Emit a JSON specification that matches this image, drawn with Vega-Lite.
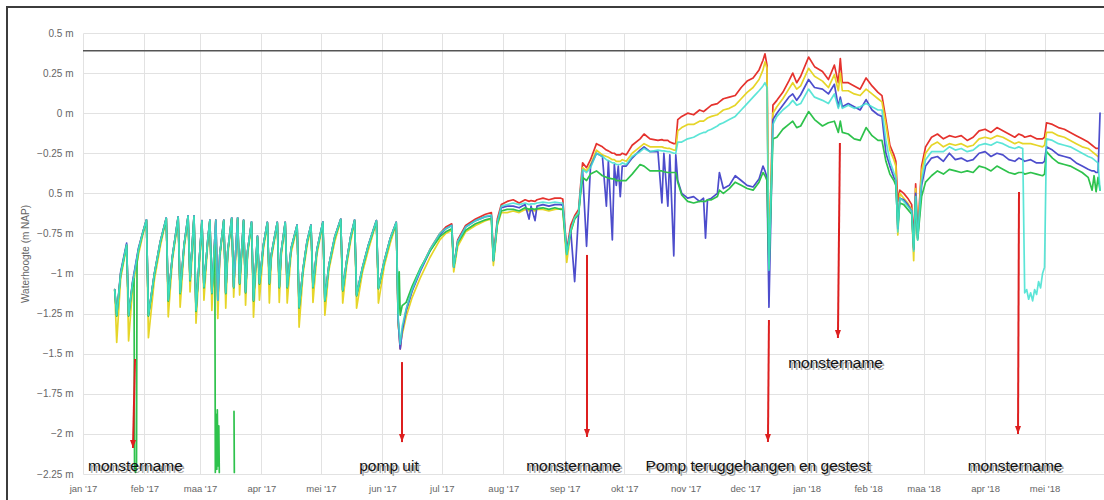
{
  "$schema": "https://vega.github.io/schema/vega-lite/v6.json",
  "width": 1021,
  "height": 441,
  "autosize": {"type": "none"},
  "padding": {"left": 83, "top": 33, "right": 0, "bottom": 26},
  "background": "white",
  "config": {"view": {"stroke": null}, "font": "Liberation Sans"},
  "datasets": {
    "w": [
      {"d":"2017/01/17","r":-1.1,"y":-1.1,"b":-1.1,"c":-1.1,"g":-1.106},
      {"d":"2017/01/18","r":-1.26,"y":-1.43,"b":-1.26,"c":-1.26,"g":-1.266},
      {"d":"2017/01/20","r":-1.0,"y":-1.03,"b":-0.99,"c":-1.0,"g":-1.006},
      {"d":"2017/01/23","r":-0.82,"y":-0.83,"b":-0.81,"c":-0.82,"g":-0.826},
      {"d":"2017/01/24","r":-1.26,"y":-1.42,"b":-1.26,"c":-1.26,"g":-1.266},
      {"d":"2017/01/26","r":-1.06,"y":-1.09,"b":-1.05,"c":-1.06,"g":-1.066},
      {"d":"2017/01/26 18:00","g":-1.03},
      {"d":"2017/01/27 00:00","g":-2.2},
      {"d":"2017/01/27 12:00","g":-2.24},
      {"d":"2017/01/28 00:00","g":-2.18},
      {"d":"2017/01/28 06:00","g":-0.93},
      {"d":"2017/01/29","r":-0.85,"y":-0.88,"b":-0.84,"c":-0.85,"g":-0.856},
      {"d":"2017/01/31","r":-0.75,"y":-0.77,"b":-0.75,"c":-0.75,"g":-0.756},
      {"d":"2017/02/02","r":-0.665,"y":-0.67,"b":-0.665,"c":-0.665,"g":-0.671},
      {"d":"2017/02/03","r":-1.26,"y":-1.4,"b":-1.26,"c":-1.26,"g":-1.266},
      {"d":"2017/02/06","r":-1.0,"y":-1.04,"b":-1.0,"c":-1.0,"g":-1.006},
      {"d":"2017/02/09","r":-0.8,"y":-0.83,"b":-0.8,"c":-0.8,"g":-0.806},
      {"d":"2017/02/12","r":-0.653,"y":-0.66,"b":-0.653,"c":-0.653,"g":-0.659},
      {"d":"2017/02/13","r":-1.166,"y":-1.27,"b":-1.166,"c":-1.166,"g":-1.172},
      {"d":"2017/02/15","r":-0.9,"y":-0.93,"b":-0.9,"c":-0.9,"g":-0.906},
      {"d":"2017/02/18","r":-0.647,"y":-0.66,"b":-0.647,"c":-0.647,"g":-0.653},
      {"d":"2017/02/19","r":-1.12,"y":-1.21,"b":-1.12,"c":-1.12,"g":-1.126},
      {"d":"2017/02/21","r":-0.82,"y":-0.85,"b":-0.82,"c":-0.82,"g":-0.826},
      {"d":"2017/02/23","r":-0.64,"y":-0.65,"b":-0.64,"c":-0.64,"g":-0.646},
      {"d":"2017/02/24","r":-1.04,"y":-1.115,"b":-1.04,"c":-1.04,"g":-1.046},
      {"d":"2017/02/26","r":-0.64,"y":-0.65,"b":-0.64,"c":-0.64,"g":-0.646},
      {"d":"2017/02/27","r":-1.23,"y":-1.31,"b":-1.23,"c":-1.23,"g":-1.236},
      {"d":"2017/03/01","r":-0.85,"y":-0.88,"b":-0.85,"c":-0.85,"g":-0.856},
      {"d":"2017/03/02","r":-0.67,"y":-0.68,"b":-0.67,"c":-0.67,"g":-0.676},
      {"d":"2017/03/03","r":-1.084,"y":-1.166,"b":-1.084,"c":-1.084,"g":-1.09},
      {"d":"2017/03/05","r":-0.78,"y":-0.8,"b":-0.78,"c":-0.78,"g":-0.786},
      {"d":"2017/03/06","r":-0.666,"y":-0.67,"b":-0.666,"c":-0.666,"g":-0.672},
      {"d":"2017/03/07","r":-1.12,"y":-1.23,"b":-1.12,"c":-1.12,"g":-1.126},
      {"d":"2017/03/08 12:00","g":-0.82},
      {"d":"2017/03/08 18:00","g":-2.24},
      {"d":"2017/03/09","r":-0.666,"y":-0.67,"b":-0.666,"c":-0.666},
      {"d":"2017/03/09 06:00","g":-1.88},
      {"d":"2017/03/09 12:00","g":-2.22},
      {"d":"2017/03/09 18:00","g":-1.85},
      {"d":"2017/03/10","r":-1.166,"y":-1.28,"b":-1.166,"c":-1.166},
      {"d":"2017/03/10 02:00","g":-2.2},
      {"d":"2017/03/10 12:00","g":-1.95},
      {"d":"2017/03/10 18:00","g":-2.24},
      {"d":"2017/03/10 21:00","g":null},
      {"d":"2017/03/11","r":-0.88,"y":-0.91,"b":-0.88,"c":-0.88,"g":-0.886},
      {"d":"2017/03/13","r":-0.666,"y":-0.67,"b":-0.666,"c":-0.666,"g":-0.672},
      {"d":"2017/03/14","r":-1.12,"y":-1.216,"b":-1.12,"c":-1.12,"g":-1.126},
      {"d":"2017/03/15","r":-0.86,"y":-0.89,"b":-0.86,"c":-0.86,"g":-0.866},
      {"d":"2017/03/17","r":-0.653,"y":-0.66,"b":-0.653,"c":-0.653,"g":-0.659},
      {"d":"2017/03/18","r":-1.084,"y":-1.147,"b":-1.084,"c":-1.084,"g":-1.09},
      {"d":"2017/03/18 02:00","g":null},
      {"d":"2017/03/18 04:00","g":-1.86},
      {"d":"2017/03/18 08:00","g":-2.24},
      {"d":"2017/03/18 10:00","g":null},
      {"d":"2017/03/20","r":-0.653,"y":-0.66,"b":-0.653,"c":-0.653,"g":-0.659},
      {"d":"2017/03/21","r":-1.06,"y":-1.134,"b":-1.06,"c":-1.06,"g":-1.066},
      {"d":"2017/03/23","r":-0.666,"y":-0.67,"b":-0.666,"c":-0.666,"g":-0.672},
      {"d":"2017/03/24","r":-1.115,"y":-1.197,"b":-1.115,"c":-1.115,"g":-1.121},
      {"d":"2017/03/25","r":-0.86,"y":-0.89,"b":-0.86,"c":-0.86,"g":-0.866},
      {"d":"2017/03/27","r":-0.678,"y":-0.69,"b":-0.678,"c":-0.678,"g":-0.684},
      {"d":"2017/03/28","r":-1.166,"y":-1.272,"b":-1.166,"c":-1.166,"g":-1.172},
      {"d":"2017/03/30","r":-0.766,"y":-0.78,"b":-0.766,"c":-0.766,"g":-0.772},
      {"d":"2017/03/31","r":-1.06,"y":-1.166,"b":-1.06,"c":-1.06,"g":-1.066},
      {"d":"2017/04/02","r":-0.82,"y":-0.85,"b":-0.82,"c":-0.82,"g":-0.826},
      {"d":"2017/04/04","r":-0.68,"y":-0.69,"b":-0.68,"c":-0.68,"g":-0.686},
      {"d":"2017/04/05","r":-1.06,"y":-1.184,"b":-1.06,"c":-1.06,"g":-1.066},
      {"d":"2017/04/06","r":-0.88,"y":-0.91,"b":-0.88,"c":-0.88,"g":-0.886},
      {"d":"2017/04/09","r":-0.68,"y":-0.69,"b":-0.68,"c":-0.68,"g":-0.686},
      {"d":"2017/04/10","r":-1.084,"y":-1.18,"b":-1.084,"c":-1.084,"g":-1.09},
      {"d":"2017/04/11","r":-0.86,"y":-0.89,"b":-0.86,"c":-0.86,"g":-0.866},
      {"d":"2017/04/13","r":-0.68,"y":-0.69,"b":-0.68,"c":-0.68,"g":-0.686},
      {"d":"2017/04/14","r":-1.084,"y":-1.184,"b":-1.084,"c":-1.084,"g":-1.09},
      {"d":"2017/04/16","r":-0.84,"y":-0.87,"b":-0.84,"c":-0.84,"g":-0.846},
      {"d":"2017/04/19","r":-0.697,"y":-0.71,"b":-0.697,"c":-0.697,"g":-0.703},
      {"d":"2017/04/20","r":-1.21,"y":-1.334,"b":-1.21,"c":-1.21,"g":-1.216},
      {"d":"2017/04/22","r":-0.97,"y":-1.0,"b":-0.97,"c":-0.97,"g":-0.976},
      {"d":"2017/04/24","r":-0.8,"y":-0.83,"b":-0.8,"c":-0.8,"g":-0.806},
      {"d":"2017/04/26","r":-0.697,"y":-0.71,"b":-0.697,"c":-0.697,"g":-0.703},
      {"d":"2017/04/27","r":-1.084,"y":-1.18,"b":-1.084,"c":-1.084,"g":-1.09},
      {"d":"2017/04/29","r":-0.85,"y":-0.88,"b":-0.85,"c":-0.85,"g":-0.856},
      {"d":"2017/05/02","r":-0.678,"y":-0.69,"b":-0.678,"c":-0.678,"g":-0.684},
      {"d":"2017/05/03","r":-1.166,"y":-1.26,"b":-1.166,"c":-1.166,"g":-1.172},
      {"d":"2017/05/05","r":-0.95,"y":-0.98,"b":-0.95,"c":-0.95,"g":-0.956},
      {"d":"2017/05/08","r":-0.77,"y":-0.8,"b":-0.77,"c":-0.77,"g":-0.776},
      {"d":"2017/05/11","r":-0.66,"y":-0.67,"b":-0.66,"c":-0.66,"g":-0.666},
      {"d":"2017/05/12","r":-1.103,"y":-1.184,"b":-1.103,"c":-1.103,"g":-1.109},
      {"d":"2017/05/14","r":-0.92,"y":-0.95,"b":-0.92,"c":-0.92,"g":-0.926},
      {"d":"2017/05/16","r":-0.77,"y":-0.8,"b":-0.77,"c":-0.77,"g":-0.776},
      {"d":"2017/05/18","r":-0.666,"y":-0.68,"b":-0.666,"c":-0.666,"g":-0.672},
      {"d":"2017/05/19","r":-1.134,"y":-1.216,"b":-1.134,"c":-1.134,"g":-1.14},
      {"d":"2017/05/22","r":-0.96,"y":-0.99,"b":-0.96,"c":-0.96,"g":-0.966},
      {"d":"2017/05/25","r":-0.82,"y":-0.85,"b":-0.82,"c":-0.82,"g":-0.826},
      {"d":"2017/05/29","r":-0.67,"y":-0.68,"b":-0.67,"c":-0.67,"g":-0.676},
      {"d":"2017/05/30","r":-1.09,"y":-1.184,"b":-1.09,"c":-1.09,"g":-1.096},
      {"d":"2017/06/02","r":-0.92,"y":-0.95,"b":-0.92,"c":-0.92,"g":-0.926},
      {"d":"2017/06/05","r":-0.78,"y":-0.81,"b":-0.78,"c":-0.78,"g":-0.786},
      {"d":"2017/06/08","r":-0.68,"y":-0.69,"b":-0.68,"c":-0.68,"g":-0.686},
      {"d":"2017/06/09","r":-1.3,"y":-1.32,"b":-1.3,"c":-1.28,"g":-1.25},
      {"d":"2017/06/09 12:00","g":-0.99},
      {"d":"2017/06/10","r":-1.47,"y":-1.42,"b":-1.47,"c":-1.44,"g":-1.26},
      {"d":"2017/06/11","r":-1.36,"y":-1.38,"b":-1.36,"c":-1.33,"g":-1.2},
      {"d":"2017/06/13","r":-1.23,"y":-1.27,"b":-1.23,"c":-1.22,"g":-1.18},
      {"d":"2017/06/16","r":-1.1,"y":-1.15,"b":-1.11,"c":-1.1,"g":-1.08},
      {"d":"2017/06/20","r":-0.98,"y":-1.03,"b":-0.99,"c":-0.98,"g":-0.97},
      {"d":"2017/06/25","r":-0.85,"y":-0.9,"b":-0.86,"c":-0.85,"g":-0.86},
      {"d":"2017/06/30","r":-0.75,"y":-0.79,"b":-0.76,"c":-0.75,"g":-0.77},
      {"d":"2017/07/03","r":-0.71,"y":-0.75,"b":-0.72,"c":-0.72,"g":-0.74},
      {"d":"2017/07/06","r":-0.69,"y":-0.73,"b":-0.7,"c":-0.7,"g":-0.72},
      {"d":"2017/07/07","r":-0.96,"y":-0.99,"b":-0.96,"c":-0.96,"g":-0.96},
      {"d":"2017/07/09","r":-0.79,"y":-0.83,"b":-0.8,"c":-0.8,"g":-0.81},
      {"d":"2017/07/13","r":-0.7,"y":-0.74,"b":-0.71,"c":-0.71,"g":-0.73},
      {"d":"2017/07/18","r":-0.66,"y":-0.7,"b":-0.67,"c":-0.67,"g":-0.69},
      {"d":"2017/07/23","r":-0.63,"y":-0.67,"b":-0.645,"c":-0.645,"g":-0.665},
      {"d":"2017/07/26","r":-0.62,"y":-0.66,"b":-0.64,"c":-0.635,"g":-0.655},
      {"d":"2017/07/27","r":-0.9,"y":-0.95,"b":-0.92,"c":-0.92,"g":-0.92},
      {"d":"2017/07/29","r":-0.66,"y":-0.7,"b":-0.68,"c":-0.68,"g":-0.69},
      {"d":"2017/07/31","r":-0.57,"y":-0.62,"b":-0.59,"c":-0.58,"g":-0.61},
      {"d":"2017/08/03","r":-0.55,"y":-0.62,"b":-0.58,"c":-0.57,"g":-0.6},
      {"d":"2017/08/06","r":-0.54,"y":-0.61,"b":-0.58,"c":-0.56,"g":-0.6},
      {"d":"2017/08/09","r":-0.56,"y":-0.62,"b":-0.59,"c":-0.57,"g":-0.61},
      {"d":"2017/08/12","r":-0.54,"y":-0.6,"b":-0.57,"c":-0.56,"g":-0.59},
      {"d":"2017/08/14","r":-0.55,"y":-0.61,"b":-0.66,"c":-0.57,"g":-0.6},
      {"d":"2017/08/15","r":-0.545,"y":-0.605,"b":-0.58,"c":-0.565,"g":-0.595},
      {"d":"2017/08/17","r":-0.55,"y":-0.61,"b":-0.67,"c":-0.565,"g":-0.6},
      {"d":"2017/08/18","r":-0.54,"y":-0.6,"b":-0.58,"c":-0.56,"g":-0.595},
      {"d":"2017/08/21","r":-0.53,"y":-0.6,"b":-0.57,"c":-0.555,"g":-0.59},
      {"d":"2017/08/24","r":-0.54,"y":-0.61,"b":-0.58,"c":-0.56,"g":-0.6},
      {"d":"2017/08/27","r":-0.53,"y":-0.6,"b":-0.57,"c":-0.555,"g":-0.59},
      {"d":"2017/08/30","r":-0.53,"y":-0.595,"b":-0.57,"c":-0.56,"g":-0.6},
      {"d":"2017/08/31","r":-0.535,"y":-0.6,"b":-0.575,"c":-0.56,"g":-0.6},
      {"d":"2017/09/02","r":-0.86,"y":-0.93,"b":-0.87,"c":-0.88,"g":-0.88},
      {"d":"2017/09/04","r":-0.7,"y":-0.74,"b":-0.73,"c":-0.73,"g":-0.74},
      {"d":"2017/09/06","r":-0.64,"y":-0.66,"b":-1.05,"c":-0.65,"g":-0.66},
      {"d":"2017/09/08","r":-0.6,"y":-0.62,"b":-0.62,"c":-0.62,"g":-0.63},
      {"d":"2017/09/09","r":-0.45,"y":-0.48,"b":-0.48,"c":-0.47,"g":-0.5},
      {"d":"2017/09/10","r":-0.31,"y":-0.34,"b":-0.36,"c":-0.35,"g":-0.4},
      {"d":"2017/09/12","r":-0.34,"y":-0.36,"b":-0.83,"c":-0.37,"g":-0.42},
      {"d":"2017/09/14","r":-0.29,"y":-0.32,"b":-0.33,"c":-0.34,"g":-0.38},
      {"d":"2017/09/17","r":-0.19,"y":-0.23,"b":-0.25,"c":-0.25,"g":-0.36},
      {"d":"2017/09/20","r":-0.21,"y":-0.26,"b":-0.27,"c":-0.27,"g":-0.39},
      {"d":"2017/09/22","r":-0.23,"y":-0.27,"b":-0.58,"c":-0.29,"g":-0.4},
      {"d":"2017/09/23","r":-0.235,"y":-0.275,"b":-0.3,"c":-0.295,"g":-0.405},
      {"d":"2017/09/25","r":-0.25,"y":-0.29,"b":-0.79,"c":-0.31,"g":-0.41},
      {"d":"2017/09/26","r":-0.25,"y":-0.29,"b":-0.32,"c":-0.31,"g":-0.41},
      {"d":"2017/09/27","r":-0.26,"y":-0.3,"b":-0.45,"c":-0.32,"g":-0.42},
      {"d":"2017/09/28","r":-0.26,"y":-0.3,"b":-0.33,"c":-0.32,"g":-0.42},
      {"d":"2017/09/29","r":-0.26,"y":-0.3,"b":-0.52,"c":-0.32,"g":-0.42},
      {"d":"2017/09/30","r":-0.25,"y":-0.29,"b":-0.33,"c":-0.31,"g":-0.42},
      {"d":"2017/10/02","r":-0.26,"y":-0.3,"b":-0.33,"c":-0.32,"g":-0.42},
      {"d":"2017/10/05","r":-0.2,"y":-0.25,"b":-0.28,"c":-0.27,"g":-0.38},
      {"d":"2017/10/09","r":-0.16,"y":-0.21,"b":-0.23,"c":-0.24,"g":-0.32},
      {"d":"2017/10/11","r":-0.13,"y":-0.19,"b":-0.21,"c":-0.22,"g":-0.33},
      {"d":"2017/10/14","r":-0.16,"y":-0.21,"b":-0.24,"c":-0.24,"g":-0.36},
      {"d":"2017/10/18","r":-0.17,"y":-0.21,"b":-0.24,"c":-0.23,"g":-0.36},
      {"d":"2017/10/20","r":-0.165,"y":-0.21,"b":-0.56,"c":-0.235,"g":-0.36},
      {"d":"2017/10/21","r":-0.17,"y":-0.215,"b":-0.25,"c":-0.235,"g":-0.365},
      {"d":"2017/10/23","r":-0.17,"y":-0.22,"b":-0.58,"c":-0.24,"g":-0.37},
      {"d":"2017/10/24","r":-0.18,"y":-0.22,"b":-0.26,"c":-0.24,"g":-0.37},
      {"d":"2017/10/26","r":-0.19,"y":-0.23,"b":-0.89,"c":-0.25,"g":-0.37},
      {"d":"2017/10/27","r":-0.19,"y":-0.23,"b":-0.26,"c":-0.25,"g":-0.37},
      {"d":"2017/10/28","r":-0.04,"y":-0.11,"b":-0.42,"c":-0.18,"g":-0.43},
      {"d":"2017/10/30","r":-0.02,"y":-0.09,"b":-0.5,"c":-0.18,"g":-0.51},
      {"d":"2017/11/02","r":0.0,"y":-0.07,"b":-0.53,"c":-0.16,"g":-0.55},
      {"d":"2017/11/05","r":-0.01,"y":-0.07,"b":-0.52,"c":-0.15,"g":-0.56},
      {"d":"2017/11/08","r":0.02,"y":-0.05,"b":-0.55,"c":-0.13,"g":-0.55},
      {"d":"2017/11/10","r":0.01,"y":-0.05,"b":-0.53,"c":-0.12,"g":-0.55},
      {"d":"2017/11/11","r":0.02,"y":-0.04,"b":-0.78,"c":-0.12,"g":-0.55},
      {"d":"2017/11/12","r":0.03,"y":-0.03,"b":-0.54,"c":-0.11,"g":-0.54},
      {"d":"2017/11/14","r":0.05,"y":-0.02,"b":-0.53,"c":-0.1,"g":-0.54},
      {"d":"2017/11/17","r":0.06,"y":-0.01,"b":-0.5,"c":-0.08,"g":-0.52},
      {"d":"2017/11/18","r":0.07,"y":0.0,"b":-0.37,"c":-0.07,"g":-0.48},
      {"d":"2017/11/20","r":0.09,"y":0.02,"b":-0.47,"c":-0.06,"g":-0.5},
      {"d":"2017/11/23","r":0.1,"y":0.03,"b":-0.45,"c":-0.04,"g":-0.47},
      {"d":"2017/11/26","r":0.11,"y":0.05,"b":-0.39,"c":-0.02,"g":-0.43},
      {"d":"2017/11/29","r":0.16,"y":0.09,"b":-0.42,"c":0.02,"g":-0.45},
      {"d":"2017/12/02","r":0.2,"y":0.13,"b":-0.45,"c":0.06,"g":-0.47},
      {"d":"2017/12/05","r":0.22,"y":0.16,"b":-0.46,"c":0.1,"g":-0.48},
      {"d":"2017/12/08","r":0.27,"y":0.21,"b":-0.41,"c":0.14,"g":-0.43},
      {"d":"2017/12/10","r":0.33,"y":0.27,"b":-0.33,"c":0.17,"g":-0.37},
      {"d":"2017/12/11","r":0.37,"y":0.32,"b":-0.36,"c":0.19,"g":-0.39},
      {"d":"2017/12/12","r":0.3,"y":0.28,"b":-0.4,"c":0.16,"g":-0.42},
      {"d":"2017/12/13","r":-0.95,"y":-0.96,"b":-1.21,"c":-0.98,"g":-0.97},
      {"d":"2017/12/15","r":0.05,"y":0.0,"b":-0.04,"c":-0.07,"g":-0.16},
      {"d":"2017/12/17","r":0.08,"y":0.04,"b":0.0,"c":-0.02,"g":-0.15},
      {"d":"2017/12/20","r":0.13,"y":0.09,"b":0.05,"c":0.02,"g":-0.1},
      {"d":"2017/12/23","r":0.2,"y":0.15,"b":0.1,"c":0.05,"g":-0.07},
      {"d":"2017/12/25","r":0.25,"y":0.19,"b":0.12,"c":0.08,"g":-0.05},
      {"d":"2017/12/27","r":0.19,"y":0.15,"b":0.08,"c":0.05,"g":-0.09},
      {"d":"2017/12/29","r":0.23,"y":0.17,"b":0.115,"c":0.06,"g":-0.08},
      {"d":"2018/01/02","r":0.35,"y":0.28,"b":0.21,"c":0.15,"g":0.01},
      {"d":"2018/01/05","r":0.29,"y":0.23,"b":0.16,"c":0.1,"g":-0.04},
      {"d":"2018/01/09","r":0.26,"y":0.2,"b":0.15,"c":0.08,"g":-0.08},
      {"d":"2018/01/12","r":0.21,"y":0.16,"b":0.12,"c":0.06,"g":-0.06},
      {"d":"2018/01/15","r":0.3,"y":0.24,"b":0.18,"c":0.12,"g":-0.05},
      {"d":"2018/01/17","r":0.19,"y":0.14,"b":0.04,"c":0.03,"g":-0.12},
      {"d":"2018/01/18","r":0.34,"y":0.25,"b":0.1,"c":0.08,"g":-0.05},
      {"d":"2018/01/19","r":0.19,"y":0.14,"b":0.04,"c":0.03,"g":-0.12},
      {"d":"2018/01/22","r":0.19,"y":0.14,"b":0.06,"c":0.05,"g":-0.13},
      {"d":"2018/01/25","r":0.17,"y":0.12,"b":0.04,"c":0.03,"g":-0.16},
      {"d":"2018/01/28","r":0.15,"y":0.11,"b":0.02,"c":0.04,"g":-0.17},
      {"d":"2018/01/31","r":0.22,"y":0.15,"b":0.085,"c":0.06,"g":-0.09},
      {"d":"2018/02/03","r":0.17,"y":0.12,"b":0.02,"c":0.04,"g":-0.14},
      {"d":"2018/02/06","r":0.13,"y":0.09,"b":-0.01,"c":0.02,"g":-0.17},
      {"d":"2018/02/08","r":0.11,"y":0.07,"b":-0.02,"c":0.02,"g":-0.17},
      {"d":"2018/02/10","r":-0.04,"y":-0.07,"b":-0.25,"c":-0.17,"g":-0.3},
      {"d":"2018/02/12","r":-0.2,"y":-0.23,"b":-0.33,"c":-0.3,"g":-0.38},
      {"d":"2018/02/14","r":-0.26,"y":-0.29,"b":-0.4,"c":-0.37,"g":-0.42},
      {"d":"2018/02/15","r":-0.3,"y":-0.33,"b":-0.42,"c":-0.4,"g":-0.45},
      {"d":"2018/02/16","r":-0.55,"y":-0.76,"b":-0.72,"c":-0.74,"g":-0.7},
      {"d":"2018/02/17","r":-0.48,"y":-0.5,"b":-0.53,"c":-0.53,"g":-0.56},
      {"d":"2018/02/19","r":-0.5,"y":-0.53,"b":-0.54,"c":-0.55,"g":-0.57},
      {"d":"2018/02/21","r":-0.53,"y":-0.56,"b":-0.57,"c":-0.58,"g":-0.6},
      {"d":"2018/02/23","r":-0.57,"y":-0.6,"b":-0.61,"c":-0.61,"g":-0.63},
      {"d":"2018/02/24","r":-0.8,"y":-0.92,"b":-0.85,"c":-0.86,"g":-0.84},
      {"d":"2018/02/25","r":-0.44,"y":-0.47,"b":-0.5,"c":-0.52,"g":-0.55},
      {"d":"2018/02/26","r":-0.75,"y":-0.78,"b":-0.78,"c":-0.79,"g":-0.79},
      {"d":"2018/02/28","r":-0.33,"y":-0.36,"b":-0.45,"c":-0.42,"g":-0.52},
      {"d":"2018/03/02","r":-0.21,"y":-0.25,"b":-0.33,"c":-0.29,"g":-0.43},
      {"d":"2018/03/05","r":-0.15,"y":-0.2,"b":-0.28,"c":-0.24,"g":-0.39},
      {"d":"2018/03/08","r":-0.13,"y":-0.18,"b":-0.27,"c":-0.24,"g":-0.36},
      {"d":"2018/03/11","r":-0.16,"y":-0.21,"b":-0.3,"c":-0.24,"g":-0.38},
      {"d":"2018/03/14","r":-0.14,"y":-0.19,"b":-0.25,"c":-0.21,"g":-0.35},
      {"d":"2018/03/17","r":-0.15,"y":-0.2,"b":-0.29,"c":-0.23,"g":-0.36},
      {"d":"2018/03/20","r":-0.14,"y":-0.19,"b":-0.28,"c":-0.22,"g":-0.37},
      {"d":"2018/03/23","r":-0.17,"y":-0.21,"b":-0.3,"c":-0.24,"g":-0.36},
      {"d":"2018/03/26","r":-0.15,"y":-0.2,"b":-0.29,"c":-0.23,"g":-0.37},
      {"d":"2018/03/29","r":-0.11,"y":-0.16,"b":-0.25,"c":-0.2,"g":-0.33},
      {"d":"2018/04/01","r":-0.1,"y":-0.15,"b":-0.24,"c":-0.19,"g":-0.34},
      {"d":"2018/04/04","r":-0.12,"y":-0.16,"b":-0.27,"c":-0.2,"g":-0.36},
      {"d":"2018/04/07","r":-0.09,"y":-0.14,"b":-0.25,"c":-0.18,"g":-0.33},
      {"d":"2018/04/10","r":-0.11,"y":-0.15,"b":-0.26,"c":-0.19,"g":-0.35},
      {"d":"2018/04/13","r":-0.13,"y":-0.17,"b":-0.29,"c":-0.21,"g":-0.37},
      {"d":"2018/04/16","r":-0.15,"y":-0.19,"b":-0.3,"c":-0.22,"g":-0.38},
      {"d":"2018/04/18","r":-0.13,"y":-0.18,"b":-0.28,"c":-0.21,"g":-0.37},
      {"d":"2018/04/20","r":-0.14,"y":-0.19,"b":-0.29,"c":-0.22,"g":-0.37},
      {"d":"2018/04/21","r":-0.15,"y":-0.19,"b":-0.3,"c":-1.12,"g":-0.38},
      {"d":"2018/04/22","c":-1.1},
      {"d":"2018/04/23","c":-1.16},
      {"d":"2018/04/24","r":-0.14,"y":-0.19,"b":-0.29,"c":-1.12,"g":-0.37},
      {"d":"2018/04/25","c":-1.17},
      {"d":"2018/04/26","c":-1.1},
      {"d":"2018/04/27","r":-0.16,"y":-0.2,"b":-0.31,"c":-1.13,"g":-0.38},
      {"d":"2018/04/28","c":-1.05},
      {"d":"2018/04/29","c":-1.09},
      {"d":"2018/04/30","r":-0.16,"y":-0.21,"b":-0.31,"c":-1.0,"g":-0.39},
      {"d":"2018/05/01","r":-0.15,"y":-0.2,"b":-0.3,"c":-0.96,"g":-0.38},
      {"d":"2018/05/02","r":-0.06,"y":-0.12,"b":-0.21,"c":-0.16,"g":-0.24},
      {"d":"2018/05/05","r":-0.07,"y":-0.12,"b":-0.23,"c":-0.17,"g":-0.28},
      {"d":"2018/05/08","r":-0.09,"y":-0.14,"b":-0.26,"c":-0.19,"g":-0.31},
      {"d":"2018/05/11","r":-0.1,"y":-0.15,"b":-0.27,"c":-0.2,"g":-0.32},
      {"d":"2018/05/14","r":-0.12,"y":-0.17,"b":-0.28,"c":-0.21,"g":-0.33},
      {"d":"2018/05/17","r":-0.14,"y":-0.19,"b":-0.31,"c":-0.23,"g":-0.35},
      {"d":"2018/05/20","r":-0.16,"y":-0.21,"b":-0.33,"c":-0.25,"g":-0.37},
      {"d":"2018/05/23","r":-0.18,"y":-0.22,"b":-0.35,"c":-0.27,"g":-0.4},
      {"d":"2018/05/25","r":-0.2,"y":-0.24,"b":-0.36,"c":-0.28,"g":-0.48},
      {"d":"2018/05/26","r":-0.21,"y":-0.25,"b":-0.36,"c":-0.29,"g":-0.39},
      {"d":"2018/05/27","r":-0.22,"y":-0.26,"b":-0.37,"c":-0.3,"g":-0.49},
      {"d":"2018/05/28","r":-0.22,"y":-0.27,"b":-0.37,"c":-0.31,"g":-0.4},
      {"d":"2018/05/29","b":0.0,"c":-0.48,"g":-0.48}
    ],
    "arr": [
      {"d":"2017/01/26 05:00","v":-2.088,"d2":"2017/01/27 05:30","v2":-1.533},
      {"d":"2017/06/10 22:00","v":-2.051,"d2":"2017/06/10 22:00","v2":-1.552},
      {"d":"2017/09/12 05:00","v":-2.019,"d2":"2017/09/12 05:00","v2":-0.884},
      {"d":"2017/12/12 12:00","v":-2.051,"d2":"2017/12/13 00:00","v2":-1.29},
      {"d":"2018/01/16 19:00","v":-1.402,"d2":"2018/01/17 19:00","v2":-0.186},
      {"d":"2018/04/17 15:00","v":-2.0,"d2":"2018/04/18 03:00","v2":-0.491}
    ],
    "ann": [
      {"d":"2017/01/27 11:00","v":-2.231,"t":"monstername"},
      {"d":"2017/06/04 08:00","v":-2.231,"t":"pomp uit"},
      {"d":"2017/09/05 10:00","v":-2.231,"t":"monstername"},
      {"d":"2017/12/07 12:00","v":-2.231,"t":"Pomp teruggehangen en gestest"},
      {"d":"2018/01/15 14:00","v":-1.589,"t":"monstername"},
      {"d":"2018/04/16 03:00","v":-2.231,"t":"monstername"}
    ]
  },
  "encoding": {
    "x": {
      "field": "d", "type": "temporal",
      "scale": {"domain": [{"year": 2017, "month": 1, "date": 1}, {"year": 2018, "month": 5, "date": 31}]},
      "axis": {
        "title": null,
        "tickCount": {"interval": "month", "step": 1},
        "grid": true, "gridColor": "#e2e2e2", "gridWidth": 1,
        "domain": false, "ticks": false,
        "labelFlush": false, "labelOverlap": false,
        "labelFont": "Liberation Sans", "labelFontSize": 9.5, "labelColor": "#666666", "labelPadding": 9,
        "labelExpr": "['jan','feb','maa','apr','mei','jun','jul','aug','sep','okt','nov','dec'][month(datum.value)] + \" '\" + timeFormat(datum.value, '%y')"
      }
    },
    "y": {
      "field": "v", "type": "quantitative",
      "scale": {"domain": [-2.25, 0.5], "nice": false, "zero": false},
      "axis": {
        "title": "Waterhoogte (m NAP)",
        "values": [-2.25, -2, -1.75, -1.5, -1.25, -1, -0.75, -0.5, -0.25, 0, 0.25, 0.5],
        "grid": true, "gridColor": "#e2e2e2", "gridWidth": 1,
        "domain": false, "ticks": false,
        "labelFont": "Liberation Sans", "labelFontSize": 10, "labelColor": "#666666", "labelPadding": 10,
        "labelExpr": "datum.value == -0.5 ? '0.5 m' : format(datum.value, '~g') + ' m'",
        "titleFont": "Liberation Sans", "titleFontSize": 10, "titleFontWeight": "normal", "titleColor": "#666666", "titlePadding": 6
      }
    }
  },
  "layer": [
    {
      "data": {"values": [{"d": "2016/11/23 16:00", "d2": "2018/08/01", "v": 0.662, "v2": -2.8}]},
      "mark": {"type": "rect", "fill": "white", "fillOpacity": 0, "stroke": "#3c3c3c", "strokeWidth": 2, "clip": false},
      "encoding": {"x2": {"field": "d2"}, "y2": {"field": "v2"}}
    },
    {
      "data": {"values": [{"d": "2017/01/01", "d2": "2018/05/31", "v": 0.39}]},
      "mark": {"type": "rule", "color": "#555555", "strokeWidth": 1.5},
      "encoding": {"x2": {"field": "d2"}}
    },
    {
      "data": {"name": "w"},
      "transform": [{"fold": ["r"], "as": ["s", "v"]}, {"filter": "isDefined(datum.v)"}],
      "mark": {"type": "line", "color": "#e5322d", "strokeWidth": 1.7, "strokeJoin": "round", "strokeCap": "round", "invalid": "break-paths-show-domains"},
      "encoding": {}
    },
    {
      "data": {"name": "w"},
      "transform": [{"fold": ["y"], "as": ["s", "v"]}, {"filter": "isDefined(datum.v)"}],
      "mark": {"type": "line", "color": "#e6d528", "strokeWidth": 1.7, "strokeJoin": "round", "strokeCap": "round", "invalid": "break-paths-show-domains"},
      "encoding": {}
    },
    {
      "data": {"name": "w"},
      "transform": [{"fold": ["b"], "as": ["s", "v"]}, {"filter": "isDefined(datum.v)"}],
      "mark": {"type": "line", "color": "#4d4dcc", "strokeWidth": 1.7, "strokeJoin": "round", "strokeCap": "round", "invalid": "break-paths-show-domains"},
      "encoding": {}
    },
    {
      "data": {"name": "w"},
      "transform": [{"fold": ["g"], "as": ["s", "v"]}, {"filter": "isDefined(datum.v)"}],
      "mark": {"type": "line", "color": "#2ec24c", "strokeWidth": 1.7, "strokeJoin": "round", "strokeCap": "round", "invalid": "break-paths-show-domains"},
      "encoding": {}
    },
    {
      "data": {"name": "w"},
      "transform": [{"fold": ["c"], "as": ["s", "v"]}, {"filter": "isDefined(datum.v)"}],
      "mark": {"type": "line", "color": "#40e0d0", "strokeWidth": 1.7, "strokeJoin": "round", "strokeCap": "round", "invalid": "break-paths-show-domains", "opacity": 0.85},
      "encoding": {}
    },
    {
      "data": {"name": "arr"},
      "mark": {"type": "rule", "color": "#dd1f1f", "strokeWidth": 2},
      "encoding": {"x2": {"field": "d2"}, "y2": {"field": "v2"}}
    },
    {
      "data": {"name": "arr"},
      "mark": {"type": "point", "shape": "M-0.75,-2L0.75,-2L0,0Z", "size": 64, "filled": true, "color": "#dd1f1f", "opacity": 1, "strokeWidth": 0},
      "encoding": {}
    },
    {
      "data": {"name": "ann"},
      "mark": {"type": "text", "font": "Liberation Sans", "fontSize": 15.5, "baseline": "alphabetic", "align": "center", "color": "#000000", "opacity": 0.35, "dx": 2, "dy": 2},
      "encoding": {"text": {"field": "t"}}
    },
    {
      "data": {"name": "ann"},
      "mark": {"type": "text", "font": "Liberation Sans", "fontSize": 15.5, "baseline": "alphabetic", "align": "center", "color": "#111111"},
      "encoding": {"text": {"field": "t"}}
    }
  ]
}
